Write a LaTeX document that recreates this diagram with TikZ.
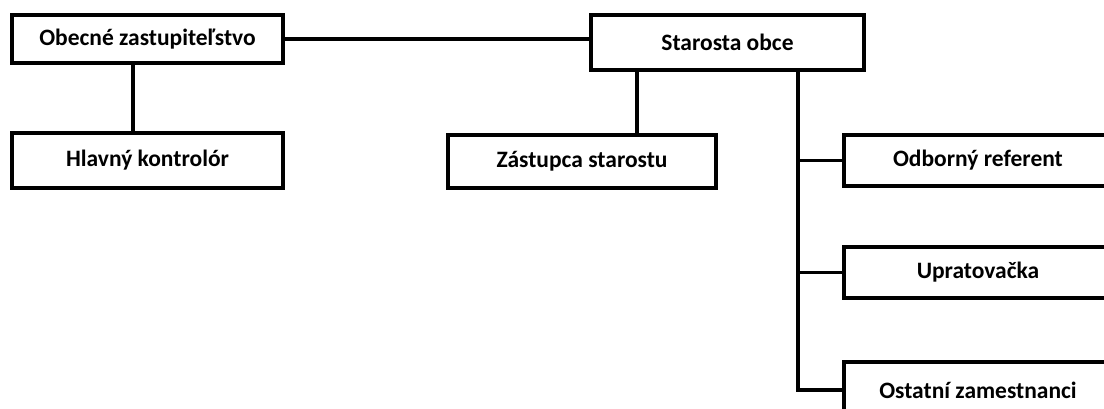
\documentclass[tikz,border=0pt]{standalone}
\usepackage{fontspec}
\setmainfont{Carlito}
\usepackage{tikz}
\usetikzlibrary{positioning}

\begin{document}
\begin{tikzpicture}[x=1pt,y=-1pt,on grid,
	unit/.style={draw,line width=3.6pt,fill=white,inner sep=0pt,font=\bfseries\fontsize{23.5}{28}\selectfont},
	link/.style={line width=3.6pt}]
\useasboundingbox (0,0) rectangle (1104,408);
\clip (0,0) rectangle (1104,408);
\node[unit,minimum width=271pt,minimum height=48pt]	(obec)			at (147.5,39)						{Obecné zastupiteľstvo};
\node[unit,minimum width=271pt,minimum height=55pt]	(kontrolor)		[below=121.5pt of obec]				{Hlavný kontrolór};
\node[unit,minimum width=273pt,minimum height=55pt]	(starosta)		at (727.5,42.5)						{Starosta obce};
\node[unit,minimum width=268pt,minimum height=53pt]	(zastupca)		[below left=119pt and 145.5pt of starosta]	{Zástupca starostu};
\node[unit,minimum width=268pt,minimum height=51pt]	(referent)		at (978,160.5)						{Odborný referent};
\node[unit,minimum width=268pt,minimum height=51pt]	(upratovacka)	[below=112pt of referent]			{Upratovačka};
\node[unit,minimum width=268pt,minimum height=56pt]	(ostatni)		[below=117.5pt of upratovacka]		{Ostatní zamestnanci};

\draw[link] (obec.east)						-- (obec.east -| starosta.west);
\draw[link] ([xshift=-14.5pt]obec.south)		-- ([xshift=-14.5pt]kontrolor.north);
\draw[link] ([xshift=-90.5pt]starosta.south)	-- ([xshift=55pt]zastupca.north);
\draw[link] ([xshift=70.5pt]starosta.south)	|- (referent.west);
\draw[link] ([xshift=70.5pt]starosta.south)	|- (upratovacka.west);
\draw[link] ([xshift=70.5pt]starosta.south)	|- (ostatni.west);
\end{tikzpicture}
\end{document}
